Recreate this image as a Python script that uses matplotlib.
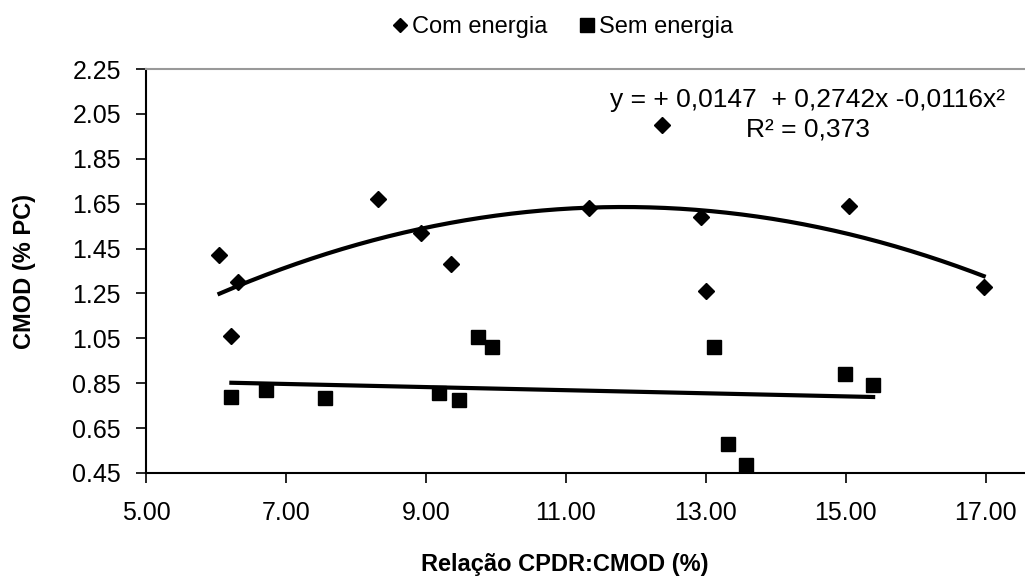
import numpy as np
import matplotlib
matplotlib.use("Agg")
import matplotlib.pyplot as plt

plt.rcParams['font.family'] = ['Liberation Sans', 'DejaVu Sans']

# Com energia (diamonds)
x_com = [6.05, 6.21, 6.32, 8.32, 8.93, 9.36, 11.33, 12.37, 12.93, 13.00, 15.05, 16.97]
y_com = [1.42, 1.06, 1.30, 1.67, 1.52, 1.38, 1.63, 2.00, 1.59, 1.26, 1.64, 1.28]

# Sem energia (squares)
x_sem = [6.22, 6.72, 7.56, 9.18, 9.47, 9.75, 9.95, 13.11, 13.31, 13.58, 14.99, 15.39]
y_sem = [0.79, 0.82, 0.785, 0.805, 0.775, 1.055, 1.01, 1.01, 0.58, 0.487, 0.89, 0.84]

# quadratic shown on the chart for "Com energia"
coef_com = [-0.0116, 0.2742, 0.0147]

xticks = [5, 7, 9, 11, 13, 15, 17]
yticks = [0.45, 0.65, 0.85, 1.05, 1.25, 1.45, 1.65, 1.85, 2.05, 2.25]

fig = plt.figure(figsize=(10.25, 5.76), dpi=100)
ax = fig.add_axes([146 / 1025, 1 - 473 / 576, 1 - 146 / 1025, (473 - 69) / 576])

ax.plot(x_com, y_com, 'D', color='black', markersize=8, label='Com energia', clip_on=False)
ax.plot(x_sem, y_sem, 's', color='black', markersize=10.5, label='Sem energia', clip_on=False)

# trend lines
xc = np.linspace(min(x_com), max(x_com), 200)
ax.plot(xc, np.polyval(coef_com, xc), color='black', lw=3)
coef_sem = np.polyfit(x_sem, y_sem, 1)
xs = np.linspace(min(x_sem), max(x_sem), 200)
ax.plot(xs, np.polyval(coef_sem, xs), color='black', lw=3)

ax.set_xlim(5, 17.56)
ax.set_ylim(0.45, 2.25)
ax.set_xticks(xticks)
ax.set_yticks(yticks)
ax.set_xticklabels([f"{v:.2f}" for v in xticks], fontsize=18)
ax.set_yticklabels([f"{v:.2f}" for v in yticks], fontsize=18)
ax.tick_params(direction='out', length=7, width=1.2, color='black')
ax.tick_params(axis='y', pad=11)
ax.tick_params(axis='x', pad=13)

for s in ['left', 'bottom']:
    ax.spines[s].set_linewidth(1.5)
ax.spines['top'].set_color('#999999')
ax.spines['top'].set_linewidth(1.5)
ax.spines['right'].set_visible(False)

ax.set_xlabel('Relação CPDR:CMOD (%)', fontsize=17, fontweight='bold')
ax.set_ylabel('CMOD (% PC)', fontsize=17, fontweight='bold')
ax.xaxis.set_label_coords((565 - 146) / 879, (473 - 565) / 404)
ax.yaxis.set_label_coords((25 - 146) / 879, 0.5)
ax.xaxis.label.set_va('center')
ax.yaxis.label.set_va('center')

fig.text(808 / 1025, 1 - 100 / 576, 'y = + 0,0147  + 0,2742x -0,0116x²', fontsize=19,
         ha='center', va='center')
fig.text(808 / 1025, 1 - 129 / 576, 'R² = 0,373', fontsize=19, ha='center', va='center')

fig.legend(loc='center', bbox_to_anchor=(563 / 1025, 1 - 27 / 576), ncol=2, frameon=False,
           fontsize=17, handlelength=0.6, handletextpad=0.2, columnspacing=1.4, markerscale=0.9)

fig.savefig('out.png', dpi=100)
